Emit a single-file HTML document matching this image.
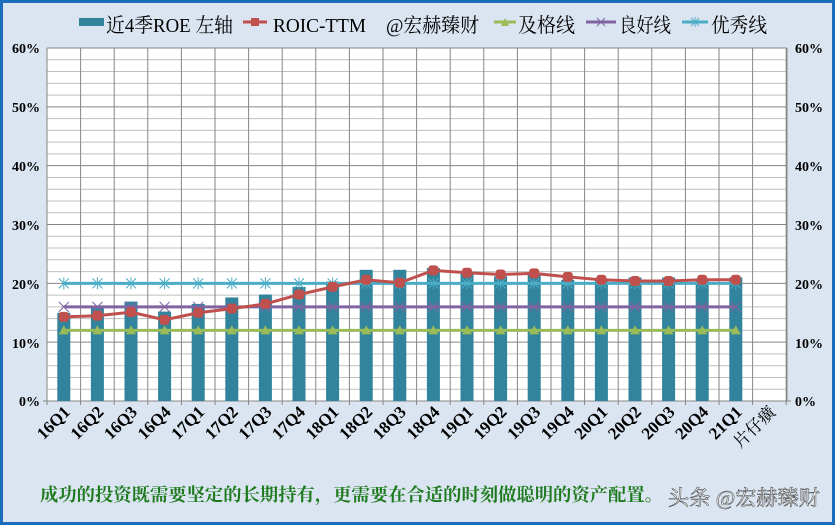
<!DOCTYPE html>
<html><head><meta charset="utf-8"><style>
html,body{margin:0;padding:0;}
body{width:835px;height:525px;overflow:hidden;background:#dbe5f1;}
svg{display:block;}
text{font-family:"Liberation Serif","Noto Serif CJK SC",serif;}
</style></head><body>
<svg id="s" width="835" height="525" xmlns="http://www.w3.org/2000/svg">
<rect x="1.5" y="1.5" width="832" height="522" fill="#dbe5f1" stroke="#1c6cbc" stroke-width="3"/>
<rect x="47" y="48" width="740" height="353" fill="#fff"/>
<g id="grid"></g>
<g id="bars"></g>
<g id="lines"></g>
<g font-size="14" font-weight="bold" fill="#000">
<text x="40" y="53" text-anchor="end">60%</text>
<text x="40" y="112" text-anchor="end">50%</text>
<text x="40" y="171" text-anchor="end">40%</text>
<text x="40" y="230" text-anchor="end">30%</text>
<text x="40" y="289" text-anchor="end">20%</text>
<text x="40" y="348" text-anchor="end">10%</text>
<text x="40" y="406" text-anchor="end">0%</text>
<text x="795" y="53">60%</text>
<text x="795" y="112">50%</text>
<text x="795" y="171">40%</text>
<text x="795" y="230">30%</text>
<text x="795" y="289">20%</text>
<text x="795" y="348">10%</text>
<text x="795" y="406">0%</text>
</g>
<g font-size="17" font-weight="bold" text-anchor="end">
<text transform="translate(71,413) rotate(-45)">16Q1</text>
<text transform="translate(104.6,413) rotate(-45)">16Q2</text>
<text transform="translate(138.2,413) rotate(-45)">16Q3</text>
<text transform="translate(171.8,413) rotate(-45)">16Q4</text>
<text transform="translate(205.4,413) rotate(-45)">17Q1</text>
<text transform="translate(239,413) rotate(-45)">17Q2</text>
<text transform="translate(272.6,413) rotate(-45)">17Q3</text>
<text transform="translate(306.2,413) rotate(-45)">17Q4</text>
<text transform="translate(339.8,413) rotate(-45)">18Q1</text>
<text transform="translate(373.4,413) rotate(-45)">18Q2</text>
<text transform="translate(407,413) rotate(-45)">18Q3</text>
<text transform="translate(440.6,413) rotate(-45)">18Q4</text>
<text transform="translate(474.2,413) rotate(-45)">19Q1</text>
<text transform="translate(507.8,413) rotate(-45)">19Q2</text>
<text transform="translate(541.4,413) rotate(-45)">19Q3</text>
<text transform="translate(575,413) rotate(-45)">19Q4</text>
<text transform="translate(608.6,413) rotate(-45)">20Q1</text>
<text transform="translate(642.2,413) rotate(-45)">20Q2</text>
<text transform="translate(675.8,413) rotate(-45)">20Q3</text>
<text transform="translate(709.4,413) rotate(-45)">20Q4</text>
<text transform="translate(743,413) rotate(-45)">21Q1</text>
<text transform="translate(776.6,413) rotate(-45)" font-weight="normal" font-family="'Noto Serif CJK SC',serif">片仔癀</text>
</g>
<g font-size="20" fill="#000">
<rect x="79" y="18" width="25" height="8" fill="#31849b"/>
<text x="106" y="32" textLength="127" lengthAdjust="spacingAndGlyphs">近4季ROE 左轴</text>
<line x1="243" y1="22" x2="267" y2="22" stroke="#c0504d" stroke-width="3"/><rect x="251" y="18" width="8" height="8" fill="#c0504d"/>
<text x="273" y="32" textLength="93" lengthAdjust="spacingAndGlyphs">ROIC-TTM</text>
<text x="386" y="32" textLength="93" lengthAdjust="spacingAndGlyphs">@宏赫臻财</text>
<line x1="494" y1="22" x2="516" y2="22" stroke="#9bbb59" stroke-width="3"/><path d="M501 26 L505 18 L509 26Z" fill="#9bbb59"/>
<text x="518" y="32" textLength="57" lengthAdjust="spacingAndGlyphs">及格线</text>
<line x1="586" y1="22" x2="616" y2="22" stroke="#8064a2" stroke-width="3"/><path d="M597 18 L605 26 M605 18 L597 26" stroke="#8064a2" stroke-width="1"/>
<text x="619" y="32" textLength="52" lengthAdjust="spacingAndGlyphs">良好线</text>
<line x1="682" y1="22" x2="708" y2="22" stroke="#4bacc6" stroke-width="3"/><path d="M691 18 L699 26 M699 18 L691 26 M695 17 L695 27" stroke="#4bacc6" stroke-width="1"/>
<text x="711" y="32" textLength="56" lengthAdjust="spacingAndGlyphs">优秀线</text>
</g>
<text x="40" y="501" font-size="18" font-weight="bold" fill="#1e7a1e" textLength="623" lengthAdjust="spacingAndGlyphs">成功的投资既需要坚定的长期持有，更需要在合适的时刻做聪明的资产配置。</text>
<text x="668" y="505" font-size="21" fill="#fff" stroke="#555" stroke-width="0.6" font-family="'Noto Sans CJK SC',sans-serif" textLength="152" lengthAdjust="spacingAndGlyphs">头条 @宏赫臻财</text>
</svg>
<script>
const NS="http://www.w3.org/2000/svg";
function el(p,t,a){const e=document.createElementNS(NS,t);for(const k in a)e.setAttribute(k,a[k]);document.getElementById(p).appendChild(e);return e;}
const y=v=>401-5.883*v, cx=i=>63.8+33.6*i;
for(let v=2;v<=60;v+=2){el('grid','line',{x1:47,x2:787,y1:y(v),y2:y(v),stroke:v%10?'#bfbfbf':'#868686','stroke-width':1});}
for(let k=0;k<=22;k++){const x=47+33.6*k;el('grid','line',{x1:x,x2:x,y1:48,y2:405,stroke:'#868686','stroke-width':1});}
el('grid','line',{x1:47,x2:47,y1:48,y2:401,stroke:'#868686'});
el('grid','line',{x1:787,x2:787,y1:48,y2:401,stroke:'#868686'});
el('grid','line',{x1:43,x2:791,y1:401,y2:401,stroke:'#868686'});
const roe=[15,16,16.9,15.2,16.5,17.6,18.1,19.4,20.3,22.3,22.3,22.6,21.8,21.2,21.5,20.6,20.7,21,21,20.8,21];
const roic=[14.3,14.5,15.1,13.8,15,15.7,16.5,18.1,19.4,20.6,20.1,22.2,21.8,21.5,21.7,21.1,20.6,20.4,20.4,20.6,20.6];
roe.forEach((v,i)=>el('bars','rect',{x:cx(i)-6.5,y:y(v),width:13,height:401-y(v),fill:'#31849b'}));
const n=roe.length;
function hl(v,c,m){el('lines','line',{x1:cx(0),x2:cx(n-1),y1:y(v),y2:y(v),stroke:c,'stroke-width':3});
 for(let i=0;i<n;i++){const X=cx(i),Y=y(v);
  if(m=='t')el('lines','path',{d:`M${X-5} ${Y+4}L${X} ${Y-5}L${X+5} ${Y+4}Z`,fill:c});
  else if(m=='x')el('lines','path',{d:`M${X-5} ${Y-5}L${X+5} ${Y+5}M${X+5} ${Y-5}L${X-5} ${Y+5}`,stroke:c,'stroke-width':1});
  else el('lines','path',{d:`M${X-5} ${Y-5}L${X+5} ${Y+5}M${X+5} ${Y-5}L${X-5} ${Y+5}M${X} ${Y-6}L${X} ${Y+6}`,stroke:c,'stroke-width':1});}}
hl(20,'#4bacc6','s');hl(16,'#8064a2','x');hl(12,'#9bbb59','t');
el('lines','polyline',{points:roic.map((v,i)=>cx(i)+','+y(v)).join(' '),fill:'none',stroke:'#c0504d','stroke-width':3});
roic.forEach((v,i)=>el('lines','rect',{x:cx(i)-5,y:y(v)-5,width:10,height:10,rx:3,fill:'#c0504d'}));
</script>
</body></html>
